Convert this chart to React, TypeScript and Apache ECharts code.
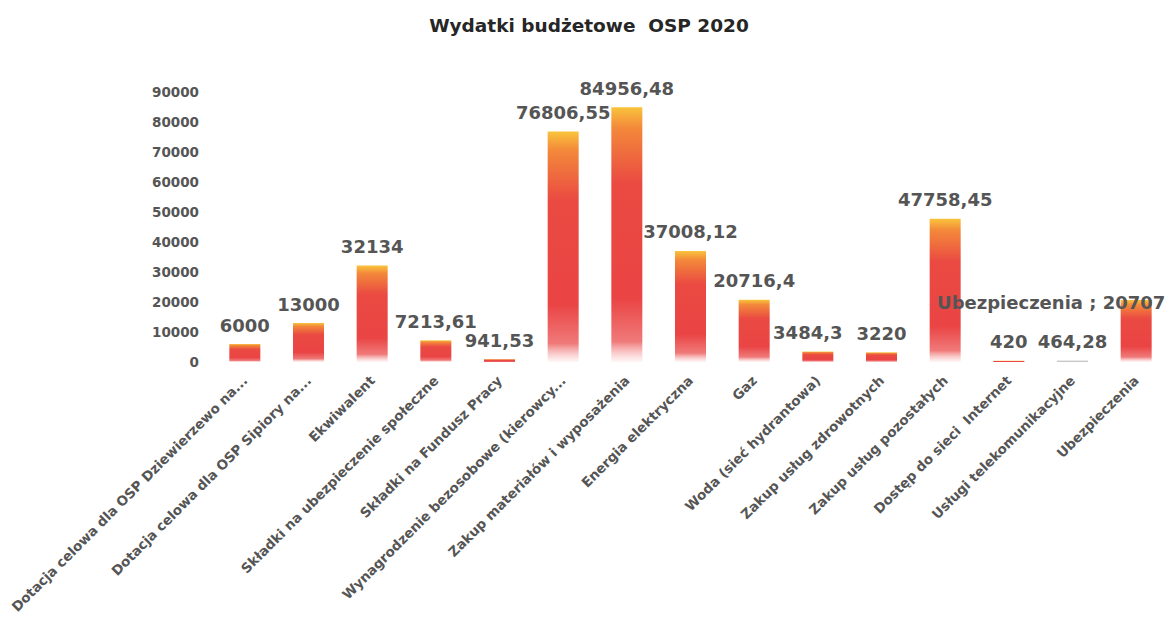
import React, { useEffect, useRef } from "react";
import * as echarts from "echarts";

const categories = [
  "Dotacja celowa dla OSP Dziewierzewo na...",
  "Dotacja celowa dla OSP Sipiory na...",
  "Ekwiwalent",
  "Składki na ubezpieczenie społeczne",
  "Składki na Fundusz Pracy",
  "Wynagrodzenie bezosobowe (kierowcy...",
  "Zakup materiałów i wyposażenia",
  "Energia elektryczna",
  "Gaz",
  "Woda (sieć hydrantowa)",
  "Zakup usług zdrowotnych",
  "Zakup usług pozostałych",
  "Dostęp do sieci  Internet",
  "Usługi telekomunikacyjne",
  "Ubezpieczenia",
];

const values = [
  6000, 13000, 32134, 7213.61, 941.53, 76806.55, 84956.48, 37008.12, 20716.4,
  3484.3, 3220, 47758.45, 420, 464.28, 20707,
];

const yTicks = { min: 0, max: 90000, interval: 10000 };

const TEXT = "#555555";
const FONT = "DejaVu Sans";

export default function App() {
  const ref = useRef<HTMLDivElement>(null);

  useEffect(() => {
    if (!ref.current) return;
    const chart = echarts.init(ref.current, null, { renderer: "svg" });

    const barColor = new echarts.graphic.LinearGradient(0, 0, 0, 1, [
      { offset: 0, color: "#f9c43c" },
      { offset: 0.08, color: "#f3893a" },
      { offset: 0.3, color: "#ea4a42" },
      { offset: 0.75, color: "#ea4444" },
      { offset: 0.92, color: "#f07a7a" },
      { offset: 1, color: "rgba(255,240,240,0.6)" },
    ]);

    const fmt = (v: number) => String(v).replace(".", ",");

    const data = values.map((v, i) => {
      const item: any = { value: v };
      if (i === 14) {
        item.label = {
          formatter: (p: any) => `${p.name} ; ${fmt(p.value)}`,
          offset: [-85, 22],
        };
      }
      if (i === 9) item.label = { offset: [-10, 0] };
      if (i === 13) item.itemStyle = { color: "#c8c8c8" };
      return item;
    });

    chart.setOption({
      animation: false,
      backgroundColor: "#ffffff",
      title: {
        text: "Wydatki budżetowe  OSP 2020",
        left: 584,
        textAlign: "center",
        top: 11,
        textStyle: {
          fontFamily: FONT,
          fontWeight: "bold",
          fontSize: 18.5,
          color: "#262626",
        },
      },
      grid: { left: 213, right: 0, top: 92, bottom: 256, containLabel: false },
      xAxis: {
        type: "category",
        data: categories,
        axisLine: { show: false },
        axisTick: { show: false },
        axisLabel: {
          interval: 0,
          rotate: 45,
          margin: 16,
          fontFamily: FONT,
          fontWeight: "bold",
          fontSize: 13.5,
          color: TEXT,
        },
      },
      yAxis: {
        type: "value",
        min: yTicks.min,
        max: yTicks.max,
        interval: yTicks.interval,
        splitLine: { show: false },
        axisLine: { show: false },
        axisTick: { show: false },
        axisLabel: {
          margin: 14,
          formatter: (v: number) => String(v),
          fontFamily: FONT,
          fontWeight: "bold",
          fontSize: 13.5,
          color: TEXT,
        },
      },
      series: [
        {
          type: "bar",
          data,
          barWidth: 31,
          itemStyle: { color: barColor },
          label: {
            show: true,
            position: "top",
            distance: 10,
            formatter: (p: any) => fmt(p.value),
            fontFamily: FONT,
            fontWeight: "bold",
            fontSize: 18,
            color: TEXT,
          },
        },
      ],
    });

    return () => chart.dispose();
  }, []);

  return (
    <div
      ref={ref}
      style={{ position: "fixed", left: 0, top: 0, width: 1168, height: 618 }}
    />
  );
}
